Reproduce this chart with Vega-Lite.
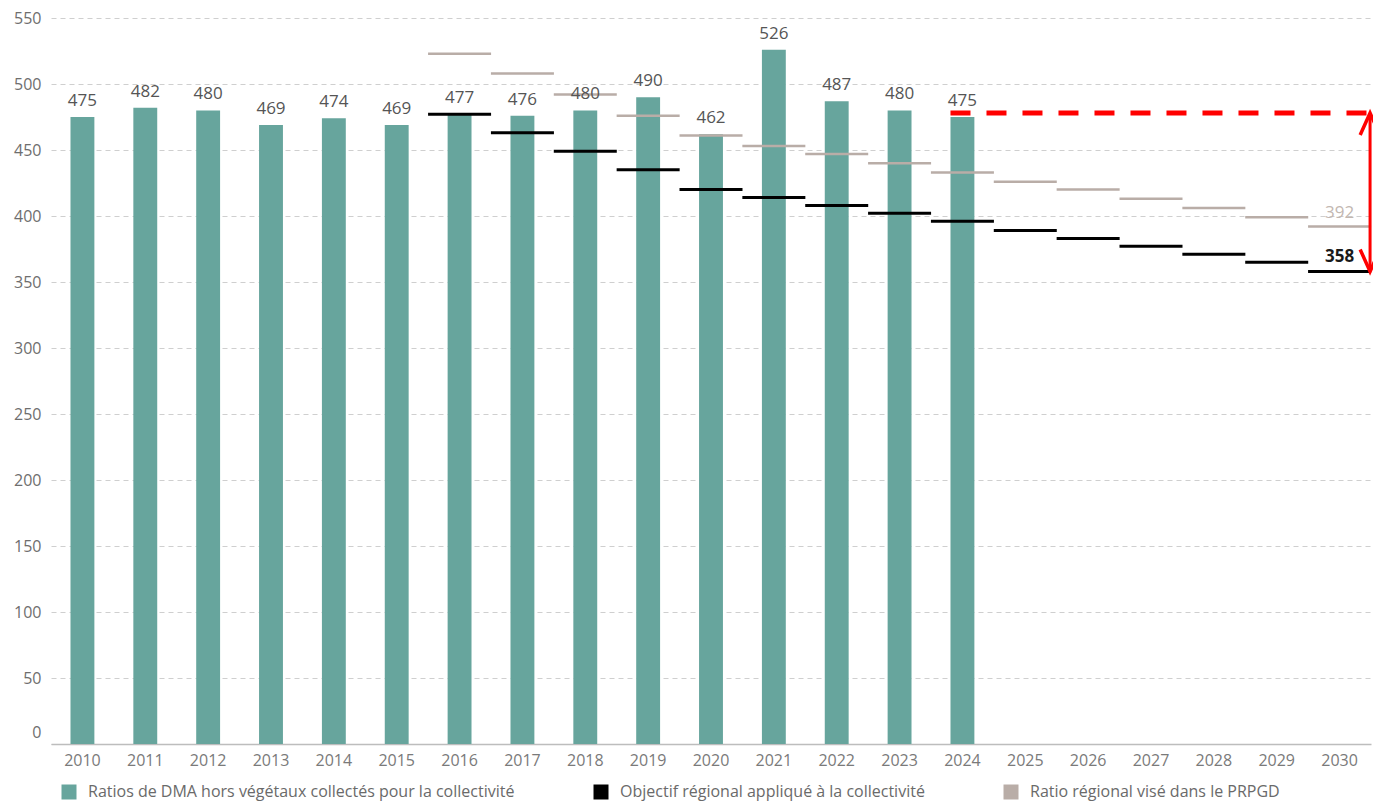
{
  "$schema": "https://vega.github.io/schema/vega-lite/v6.json",
  "autosize": {"type": "none"},
  "width": 1320,
  "height": 726,
  "padding": {"left": 51, "top": 18, "right": 2, "bottom": 60},
  "background": "white",
  "config": {
    "view": {"stroke": null},
    "font": "Open Sans",
    "axis": {"labelFont": "Open Sans", "labelColor": "#6e6e6e", "labelFontSize": 16, "title": null}
  },
  "datasets": {
    "series": [
      {"annee": "2010", "serie": "Ratios de DMA hors végétaux collectés pour la collectivité", "valeur": 475},
      {"annee": "2011", "serie": "Ratios de DMA hors végétaux collectés pour la collectivité", "valeur": 482},
      {"annee": "2012", "serie": "Ratios de DMA hors végétaux collectés pour la collectivité", "valeur": 480},
      {"annee": "2013", "serie": "Ratios de DMA hors végétaux collectés pour la collectivité", "valeur": 469},
      {"annee": "2014", "serie": "Ratios de DMA hors végétaux collectés pour la collectivité", "valeur": 474},
      {"annee": "2015", "serie": "Ratios de DMA hors végétaux collectés pour la collectivité", "valeur": 469},
      {"annee": "2016", "serie": "Ratios de DMA hors végétaux collectés pour la collectivité", "valeur": 477},
      {"annee": "2017", "serie": "Ratios de DMA hors végétaux collectés pour la collectivité", "valeur": 476},
      {"annee": "2018", "serie": "Ratios de DMA hors végétaux collectés pour la collectivité", "valeur": 480},
      {"annee": "2019", "serie": "Ratios de DMA hors végétaux collectés pour la collectivité", "valeur": 490},
      {"annee": "2020", "serie": "Ratios de DMA hors végétaux collectés pour la collectivité", "valeur": 462},
      {"annee": "2021", "serie": "Ratios de DMA hors végétaux collectés pour la collectivité", "valeur": 526},
      {"annee": "2022", "serie": "Ratios de DMA hors végétaux collectés pour la collectivité", "valeur": 487},
      {"annee": "2023", "serie": "Ratios de DMA hors végétaux collectés pour la collectivité", "valeur": 480},
      {"annee": "2024", "serie": "Ratios de DMA hors végétaux collectés pour la collectivité", "valeur": 475},
      {"annee": "2016", "serie": "Objectif régional appliqué à la collectivité", "valeur": 477},
      {"annee": "2017", "serie": "Objectif régional appliqué à la collectivité", "valeur": 463},
      {"annee": "2018", "serie": "Objectif régional appliqué à la collectivité", "valeur": 449},
      {"annee": "2019", "serie": "Objectif régional appliqué à la collectivité", "valeur": 435},
      {"annee": "2020", "serie": "Objectif régional appliqué à la collectivité", "valeur": 420},
      {"annee": "2021", "serie": "Objectif régional appliqué à la collectivité", "valeur": 414},
      {"annee": "2022", "serie": "Objectif régional appliqué à la collectivité", "valeur": 408},
      {"annee": "2023", "serie": "Objectif régional appliqué à la collectivité", "valeur": 402},
      {"annee": "2024", "serie": "Objectif régional appliqué à la collectivité", "valeur": 396},
      {"annee": "2025", "serie": "Objectif régional appliqué à la collectivité", "valeur": 389},
      {"annee": "2026", "serie": "Objectif régional appliqué à la collectivité", "valeur": 383},
      {"annee": "2027", "serie": "Objectif régional appliqué à la collectivité", "valeur": 377},
      {"annee": "2028", "serie": "Objectif régional appliqué à la collectivité", "valeur": 371},
      {"annee": "2029", "serie": "Objectif régional appliqué à la collectivité", "valeur": 365},
      {"annee": "2030", "serie": "Objectif régional appliqué à la collectivité", "valeur": 358},
      {"annee": "2016", "serie": "Ratio régional visé dans le PRPGD", "valeur": 523},
      {"annee": "2017", "serie": "Ratio régional visé dans le PRPGD", "valeur": 508},
      {"annee": "2018", "serie": "Ratio régional visé dans le PRPGD", "valeur": 492},
      {"annee": "2019", "serie": "Ratio régional visé dans le PRPGD", "valeur": 476},
      {"annee": "2020", "serie": "Ratio régional visé dans le PRPGD", "valeur": 461},
      {"annee": "2021", "serie": "Ratio régional visé dans le PRPGD", "valeur": 453},
      {"annee": "2022", "serie": "Ratio régional visé dans le PRPGD", "valeur": 447},
      {"annee": "2023", "serie": "Ratio régional visé dans le PRPGD", "valeur": 440},
      {"annee": "2024", "serie": "Ratio régional visé dans le PRPGD", "valeur": 433},
      {"annee": "2025", "serie": "Ratio régional visé dans le PRPGD", "valeur": 426},
      {"annee": "2026", "serie": "Ratio régional visé dans le PRPGD", "valeur": 420},
      {"annee": "2027", "serie": "Ratio régional visé dans le PRPGD", "valeur": 413},
      {"annee": "2028", "serie": "Ratio régional visé dans le PRPGD", "valeur": 406},
      {"annee": "2029", "serie": "Ratio régional visé dans le PRPGD", "valeur": 399},
      {"annee": "2030", "serie": "Ratio régional visé dans le PRPGD", "valeur": 392}
    ],
    "fleche": [
      {"debut": "2024", "fin": "2030", "haut": 478, "bas": 358}
    ]
  },
  "data": {"name": "series"},
  "encoding": {
    "x": {
      "field": "annee",
      "type": "ordinal",
      "scale": {"domain": ["2010","2011","2012","2013","2014","2015","2016","2017","2018","2019","2020","2021","2022","2023","2024","2025","2026","2027","2028","2029","2030"], "paddingInner": 0, "paddingOuter": 0},
      "axis": {"labelAngle": 0, "ticks": false, "domainColor": "#bdbdbd", "domainWidth": 1.5, "labelPadding": 8, "labelColor": "#7a7a7a", "labelFontSize": 16, "grid": false}
    },
    "y": {
      "field": "valeur",
      "type": "quantitative",
      "scale": {"domain": [0, 550], "nice": false},
      "axis": {"values": [0,50,100,150,200,250,300,350,400,450,500,550], "ticks": false, "domain": false, "labelPadding": 10, "grid": true, "gridColor": "#cfcfcf", "gridDash": [5, 4], "gridWidth": 1, "labelOffset": {"condition": {"test": "datum.value === 0", "value": -12}, "value": 0}}
    }
  },
  "layer": [
    {
      "transform": [{"filter": "datum.serie === 'Ratios de DMA hors végétaux collectés pour la collectivité'"}],
      "mark": {"type": "bar", "width": {"band": 0.38}},
      "encoding": {
        "color": {
          "field": "serie",
          "type": "nominal",
          "scale": {"domain": ["Ratios de DMA hors végétaux collectés pour la collectivité", "Objectif régional appliqué à la collectivité", "Ratio régional visé dans le PRPGD"], "range": ["#67a59d", "#000000", "#b9ada7"]},
          "legend": {
            "title": null,
            "orient": "none",
            "legendX": 10,
            "legendY": 766,
            "direction": "horizontal",
            "symbolType": "square",
            "symbolSize": 225,
            "symbolStrokeWidth": 0,
            "labelFont": "Open Sans",
            "labelFontSize": 16,
            "labelColor": "#6a6a6a",
            "labelOffset": 11,
            "labelLimit": 600,
            "columnPadding": 78,
            "padding": 0
          }
        }
      }
    },
    {
      "transform": [{"filter": "datum.serie === 'Ratio régional visé dans le PRPGD'"}],
      "mark": {"type": "tick", "size": 63, "thickness": 2.5, "color": "#b9ada7", "opacity": 1},
      "encoding": {}
    },
    {
      "transform": [{"filter": "datum.serie === 'Objectif régional appliqué à la collectivité'"}],
      "mark": {"type": "tick", "size": 63, "thickness": 3, "color": "#000000", "opacity": 1},
      "encoding": {}
    },
    {
      "transform": [{"filter": "datum.serie === 'Ratios de DMA hors végétaux collectés pour la collectivité'"}],
      "mark": {"type": "text", "dy": -11, "baseline": "alphabetic", "fontSize": 17, "color": "#555555", "font": "Open Sans"},
      "encoding": {"text": {"field": "valeur", "type": "quantitative"}}
    },
    {
      "transform": [{"filter": "datum.serie === 'Ratio régional visé dans le PRPGD' && datum.annee === '2030'"}],
      "mark": {"type": "text", "dy": -9, "baseline": "alphabetic", "fontSize": 17, "color": "#c2b7b1", "font": "Open Sans"},
      "encoding": {"text": {"field": "valeur", "type": "quantitative"}}
    },
    {
      "transform": [{"filter": "datum.serie === 'Objectif régional appliqué à la collectivité' && datum.annee === '2030'"}],
      "mark": {"type": "text", "dy": -9, "baseline": "alphabetic", "fontSize": 17, "fontWeight": "bold", "color": "#1a1a1a", "font": "Open Sans"},
      "encoding": {"text": {"field": "valeur", "type": "quantitative"}}
    },
    {
      "data": {"name": "fleche"},
      "mark": {"type": "rule", "color": "#ff0000", "strokeWidth": 5, "strokeDash": [20, 16]},
      "encoding": {
        "x": {"field": "debut", "type": "ordinal", "bandPosition": 0.31},
        "x2": {"field": "fin", "bandPosition": 1.03},
        "y": {"field": "haut", "type": "quantitative"}
      }
    },
    {
      "data": {"name": "fleche"},
      "mark": {"type": "rule", "color": "#ff0000", "strokeWidth": 3},
      "encoding": {
        "x": {"field": "fin", "type": "ordinal", "bandPosition": 0.985},
        "y": {"field": "haut", "type": "quantitative"},
        "y2": {"field": "bas"}
      }
    },
    {
      "data": {"name": "fleche"},
      "mark": {"type": "point", "shape": "M-0.45,1L0,0L0.45,1", "size": 1936, "filled": false, "color": "#ff0000", "strokeWidth": 3.5, "opacity": 1},
      "encoding": {
        "x": {"field": "fin", "type": "ordinal", "bandPosition": 0.985},
        "y": {"field": "haut", "type": "quantitative"}
      }
    },
    {
      "data": {"name": "fleche"},
      "mark": {"type": "point", "shape": "M-0.45,-1L0,0L0.45,-1", "size": 1936, "filled": false, "color": "#ff0000", "strokeWidth": 3.5, "opacity": 1},
      "encoding": {
        "x": {"field": "fin", "type": "ordinal", "bandPosition": 0.985},
        "y": {"field": "bas", "type": "quantitative"}
      }
    }
  ]
}
